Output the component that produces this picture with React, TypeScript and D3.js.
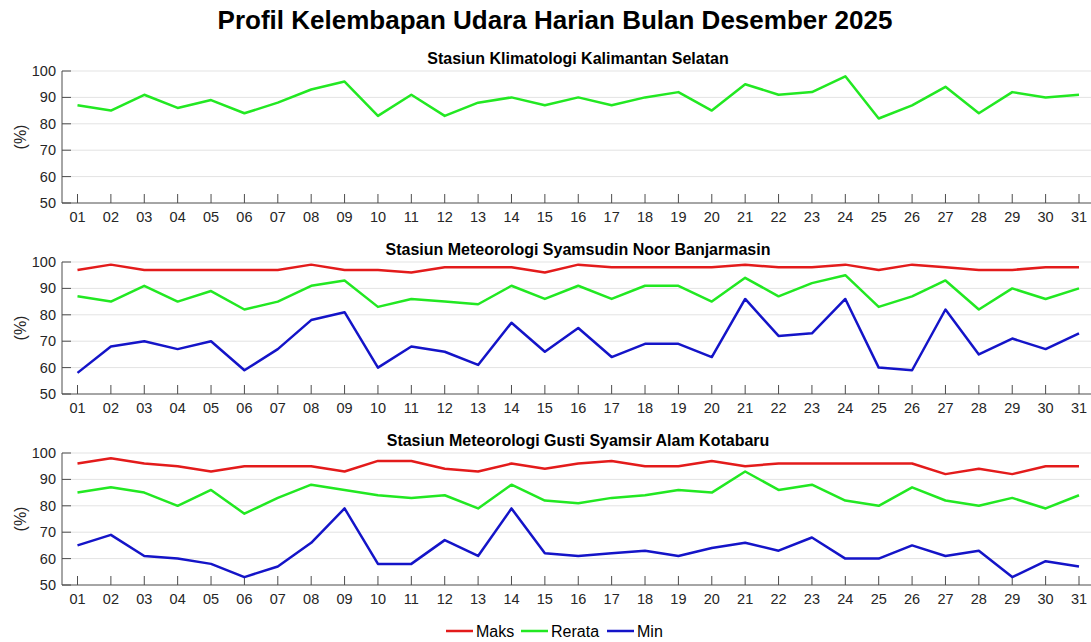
import React from "react";
import * as d3 from "d3";

const days = Array.from({ length: 31 }, (_, i) => String(i + 1).padStart(2, "0"));

const mainTitle = "Profil Kelembapan Udara Harian Bulan Desember 2025";
const stationTitles = [
  "Stasiun Klimatologi Kalimantan Selatan",
  "Stasiun Meteorologi Syamsudin Noor Banjarmasin",
  "Stasiun Meteorologi Gusti Syamsir Alam Kotabaru",
];

const klimRerata = [87, 85, 91, 86, 89, 84, 88, 93, 96, 83, 91, 83, 88, 90, 87, 90, 87, 90, 92, 85, 95, 91, 92, 98, 82, 87, 94, 84, 92, 90, 91];

const bjmMaks = [97, 99, 97, 97, 97, 97, 97, 99, 97, 97, 96, 98, 98, 98, 96, 99, 98, 98, 98, 98, 99, 98, 98, 99, 97, 99, 98, 97, 97, 98, 98];
const bjmRerata = [87, 85, 91, 85, 89, 82, 85, 91, 93, 83, 86, 85, 84, 91, 86, 91, 86, 91, 91, 85, 94, 87, 92, 95, 83, 87, 93, 82, 90, 86, 90];
const bjmMin = [58, 68, 70, 67, 70, 59, 67, 78, 81, 60, 68, 66, 61, 77, 66, 75, 64, 69, 69, 64, 86, 72, 73, 86, 60, 59, 82, 65, 71, 67, 73];

const ktbMaks = [96, 98, 96, 95, 93, 95, 95, 95, 93, 97, 97, 94, 93, 96, 94, 96, 97, 95, 95, 97, 95, 96, 96, 96, 96, 96, 92, 94, 92, 95, 95];
const ktbRerata = [85, 87, 85, 80, 86, 77, 83, 88, 86, 84, 83, 84, 79, 88, 82, 81, 83, 84, 86, 85, 93, 86, 88, 82, 80, 87, 82, 80, 83, 79, 84];
const ktbMin = [65, 69, 61, 60, 58, 53, 57, 66, 79, 58, 58, 67, 61, 79, 62, 61, 62, 63, 61, 64, 66, 63, 68, 60, 60, 65, 61, 63, 53, 59, 57];

const yTicks = [50, 60, 70, 80, 90, 100];
const seriesNames = ["Maks", "Rerata", "Min"];
const seriesColors = ["#e31b1b", "#22e822", "#1414c8"];

const panels = [
  { title: stationTitles[0], series: [null, klimRerata, null] },
  { title: stationTitles[1], series: [bjmMaks, bjmRerata, bjmMin] },
  { title: stationTitles[2], series: [ktbMaks, ktbRerata, ktbMin] },
];

const W = 1091;
const H = 642;
const axLeft = 62;
const axRight = 1094;
const panelTops = [71, 262, 453];
const panelH = 132;
const font = "'Liberation Sans', Arial, sans-serif";

export default function App() {
  const x = d3.scalePoint<string>().domain(days).range([77.5, 1079]);
  return (
    <svg width={W} height={H} style={{ position: "absolute", left: 0, top: 0, background: "#fff" }} fontFamily={font}>
      <rect width={W} height={H} fill="#fff" />
      <text x={555} y={29} textAnchor="middle" fontSize={26} fontWeight="bold" fill="#000">{mainTitle}</text>
      {panels.map((p, pi) => {
        const top = panelTops[pi];
        const y = d3.scaleLinear().domain([50, 100]).range([top + panelH, top]);
        const line = d3.line<number>().x((_, i) => x(days[i]) as number).y((v) => y(v));
        return (
          <g key={pi}>
            <text x={(axLeft + axRight) / 2} y={top - 7} textAnchor="middle" fontSize={16} fontWeight="bold" fill="#000">{p.title}</text>
            {yTicks.map((t) => (
              <g key={t}>
                {t > 50 && <line x1={axLeft} x2={W} y1={y(t)} y2={y(t)} stroke="#e3e3e3" strokeWidth={1} />}
                <line x1={axLeft} x2={axLeft + 9} y1={y(t)} y2={y(t)} stroke="#4d4d4d" strokeWidth={1} />
                <text x={axLeft - 6} y={y(t)} dy="0.35em" textAnchor="end" fontSize={14.5} fill="#262626">{t}</text>
              </g>
            ))}
            <line x1={axLeft} x2={axLeft} y1={top} y2={top + panelH} stroke="#4d4d4d" strokeWidth={1} />
            <line x1={axLeft} x2={W} y1={top + panelH} y2={top + panelH} stroke="#4d4d4d" strokeWidth={1} />
            {days.map((d) => (
              <g key={d}>
                <line x1={x(d)} x2={x(d)} y1={top + panelH} y2={top + panelH - 9} stroke="#4d4d4d" strokeWidth={1} />
                <text x={x(d)} y={top + panelH + 19} textAnchor="middle" fontSize={14.5} fill="#262626">{d}</text>
              </g>
            ))}
            <text transform={`translate(26,${top + panelH / 2}) rotate(-90)`} textAnchor="middle" fontSize={16} fill="#262626">(%)</text>
            {p.series.map((s, si) =>
              s ? <path key={si} d={line(s) || ""} fill="none" stroke={seriesColors[si]} strokeWidth={2.5} strokeLinejoin="round" /> : null
            )}
          </g>
        );
      })}
      {(() => {
        const starts = [446, 521, 607];
        return seriesNames.map((n, i) => (
          <g key={n}>
            <line x1={starts[i]} x2={starts[i] + 27} y1={631} y2={631} stroke={seriesColors[i]} strokeWidth={2.5} />
            <text x={starts[i] + 30} y={631} dy="0.35em" fontSize={16} fill="#000">{n}</text>
          </g>
        ));
      })()}
    </svg>
  );
}
